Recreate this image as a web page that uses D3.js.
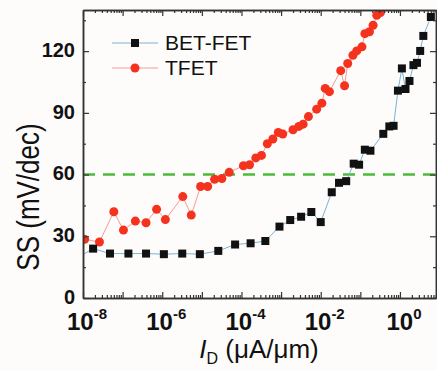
<!DOCTYPE html>
<html>
<head>
<meta charset="utf-8">
<script src="https://cdn.jsdelivr.net/npm/d3@7"></script>
<style>
  body { margin: 0; background: #fdfcfb; }
  svg { display: block; font-family: "Liberation Sans", Arial, sans-serif; }
</style>
</head>
<body>
<div id="chart"></div>
<script>
// drain current (uA/um) and subthreshold swing (mV/dec)
const betId = [7.9e-9, 1.8e-8, 4.8e-8, 1.4e-7, 3.9e-7, 1.1e-6, 3.2e-6, 8.9e-6, 2.6e-5, 6.9e-5,
  1.7e-4, 4.0e-4, 9.1e-4, 1.7e-3, 3.2e-3, 5.8e-3, 1.0e-2, 1.9e-2, 2.9e-2, 4.4e-2,
  6.8e-2, 9.3e-2, 0.13, 0.18, 0.38, 0.54, 0.69, 0.89, 1.12, 1.38,
  1.74, 2.19, 2.69, 3.24, 3.89, 6.03, 7.1];
const betSS = [20.0, 24.0, 21.6, 21.6, 21.6, 21.3, 21.6, 21.3, 22.9, 26.0,
  26.6, 27.7, 34.7, 37.9, 39.5, 41.8, 36.9, 51.4, 56.0, 56.8,
  65.3, 64.8, 72.1, 71.6, 79.8, 83.4, 83.7, 100.8, 111.6, 101.6,
  105.5, 113.2, 114.3, 120.1, 127.4, 136.6, 142];

const tfetId = [1.1e-8, 2.6e-8, 6.0e-8, 1.05e-7, 2.1e-7, 3.9e-7, 7.2e-7, 1.2e-6, 3.3e-6, 5.4e-6,
  9.3e-6, 1.4e-5, 2.1e-5, 3.2e-5, 4.9e-5, 1.12e-4, 1.6e-4, 2.3e-4, 3.2e-4, 4.5e-4,
  6.2e-4, 8.5e-4, 1.1e-3, 2.0e-3, 2.8e-3, 3.6e-3, 4.9e-3, 7.9e-3, 1.07e-2, 1.3e-2,
  1.66e-2, 3.2e-2, 4.0e-2, 4.8e-2, 6.5e-2, 8.1e-2, 0.11, 0.13, 0.17, 0.21,
  0.26, 0.32, 0.37];
const tfetSS = [28.5, 27.2, 41.9, 33.0, 37.4, 36.6, 43.1, 38.1, 49.3, 40.3,
  54.2, 54.2, 57.7, 58.1, 61.1, 64.3, 64.8, 68.1, 69.3, 75.0,
  77.3, 80.5, 79.7, 81.8, 83.4, 84.5, 88.2, 91.8, 94.7, 101.9,
  100.3, 110.5, 103.2, 114.0, 118.0, 120.1, 122.1, 128.5, 129.4, 132.6,
  137.4, 138.7, 142];

const xMajor = [1e-8, 1e-7, 1e-6, 1e-5, 1e-4, 1e-3, 1e-2, 1e-1, 1];
const xLabelExp = { "-8": 1e-8, "-6": 1e-6, "-4": 1e-4, "-2": 1e-2, "0": 1 };
const yMajor = [0, 30, 60, 90, 120];
const yMinor = [15, 45, 75, 105, 135];
const refSS = 60;

const width = 437, height = 370;
const mLeft = 83, mRight = 436, mTop = 10, mBottom = 298;

const svg = d3.select("#chart").append("svg")
  .attr("width", width)
  .attr("height", height);

const x = d3.scaleLog().domain([1e-8, Math.pow(10, 0.91)]).range([mLeft, mRight]);
const y = d3.scaleLinear().domain([0, 140]).range([mBottom, mTop]);

// minor log ticks 2..9 per decade
const xMinor = [];
xMajor.forEach(m => { for (let k = 2; k <= 9; k++) if (m * k < x.domain()[1]) xMinor.push(m * k); });

svg.append("clipPath").attr("id", "plot")
  .append("rect").attr("x", mLeft).attr("y", mTop)
  .attr("width", mRight - mLeft).attr("height", mBottom - mTop);

const plot = svg.append("g").attr("clip-path", "url(#plot)");

// 60 mV/dec reference
plot.append("line")
  .attr("x1", mLeft).attr("x2", mRight)
  .attr("y1", y(refSS)).attr("y2", y(refSS))
  .attr("stroke", "#4cbb3a")
  .attr("stroke-width", 2.5)
  .attr("stroke-dasharray", "12,8");

const line = d3.line().x(d => x(d[0])).y(d => y(d[1]));
const bet = betId.map((v, i) => [v, betSS[i]]);
const tfet = tfetId.map((v, i) => [v, tfetSS[i]]);

plot.append("path").datum(tfet)
  .attr("d", line).attr("fill", "none")
  .attr("stroke", "#f59a96").attr("stroke-width", 1);
plot.append("path").datum(bet)
  .attr("d", line).attr("fill", "none")
  .attr("stroke", "#7ab3d6").attr("stroke-width", 1);

plot.selectAll(".tf").data(tfet).enter().append("circle")
  .attr("cx", d => x(d[0])).attr("cy", d => y(d[1]))
  .attr("r", 4.5).attr("fill", "#f5321e");

plot.selectAll(".bt").data(bet).enter().append("rect")
  .attr("x", d => x(d[0]) - 4).attr("y", d => y(d[1]) - 4)
  .attr("width", 8).attr("height", 8).attr("fill", "#111");

// axes, ticks pointing inward
function styleAxis(g) {
  g.select(".domain").attr("stroke", "#333").attr("stroke-width", 1.5);
  g.selectAll(".tick line").attr("stroke", "#333").attr("stroke-width", 1.2);
}

svg.append("g").attr("transform", `translate(0,${mBottom})`)
  .call(d3.axisBottom(x).tickValues(xMinor).tickSize(-3).tickFormat("").tickSizeOuter(0)).call(styleAxis);
svg.append("g").attr("transform", `translate(0,${mBottom})`)
  .call(d3.axisBottom(x).tickValues(xMajor).tickSize(-6).tickSizeOuter(0).tickFormat(""))
  .call(styleAxis);

svg.append("g").attr("transform", `translate(0,${mTop})`)
  .call(d3.axisTop(x).tickValues(xMinor).tickSize(-3).tickFormat("").tickSizeOuter(0)).call(styleAxis);
svg.append("g").attr("transform", `translate(0,${mTop})`)
  .call(d3.axisTop(x).tickValues(xMajor).tickSize(-6).tickFormat("").tickSizeOuter(0)).call(styleAxis);

svg.append("g").attr("transform", `translate(${mLeft},0)`)
  .call(d3.axisLeft(y).tickValues(yMinor).tickSize(-3).tickFormat("").tickSizeOuter(0)).call(styleAxis);
const yAxis = svg.append("g").attr("transform", `translate(${mLeft},0)`)
  .call(d3.axisLeft(y).tickValues(yMajor).tickSize(-6).tickPadding(8).tickSizeOuter(0))
  .call(styleAxis);
yAxis.selectAll("text")
  .attr("font-size", 20).attr("font-weight", "bold").attr("fill", "#111")
  .attr("dy", "0.27em")
  .attr("font-family", "Liberation Sans, Arial, sans-serif");

svg.append("g").attr("transform", `translate(${mRight},0)`)
  .call(d3.axisRight(y).tickValues(yMinor).tickSize(-3).tickFormat("").tickSizeOuter(0)).call(styleAxis);
svg.append("g").attr("transform", `translate(${mRight},0)`)
  .call(d3.axisRight(y).tickValues(yMajor).tickSize(-6).tickFormat("").tickSizeOuter(0)).call(styleAxis);

// x tick labels 10^n
Object.entries(xLabelExp).forEach(([e, v]) => {
  const t = svg.append("text")
    .attr("x", x(v) + 4).attr("y", 330)
    .attr("text-anchor", "middle")
    .attr("font-size", 24).attr("font-weight", "bold").attr("fill", "#111");
  t.append("tspan").text("10");
  t.append("tspan").attr("font-size", 15).attr("dy", -11).text(e);
});

// axis titles
svg.append("text")
  .attr("transform", `translate(39,${(mTop + mBottom) / 2 + 43}) scale(1.18,1) rotate(-90)`)
  .attr("text-anchor", "middle")
  .attr("font-size", 26).attr("fill", "#111")
  .text("SS (mV/dec)");

const xt = svg.append("text")
  .attr("x", 259).attr("y", 358)
  .attr("text-anchor", "middle")
  .attr("font-size", 26).attr("fill", "#111");
xt.append("tspan").attr("font-style", "italic").text("I");
xt.append("tspan").attr("font-size", 16).attr("dy", 6).text("D");
xt.append("tspan").attr("dy", -6).text(" (\u03bcA/\u03bcm)");

// legend
const legend = [
  { name: "BET-FET", y: 43, color: "#7ab3d6", mark: "rect" },
  { name: "TFET", y: 68, color: "#f59a96", mark: "circle" }
];
legend.forEach(l => {
  svg.append("line").attr("x1", 112).attr("x2", 158)
    .attr("y1", l.y).attr("y2", l.y).attr("stroke", l.color).attr("stroke-width", 1);
  if (l.mark === "rect") {
    svg.append("rect").attr("x", 131).attr("y", l.y - 4).attr("width", 8).attr("height", 8).attr("fill", "#111");
  } else {
    svg.append("circle").attr("cx", 135).attr("cy", l.y).attr("r", 4.5).attr("fill", "#f5321e");
  }
  svg.append("text").attr("x", 165).attr("y", l.y + 7)
    .attr("font-size", 21).attr("fill", "#111").text(l.name);
});
</script>
</body>
</html>
